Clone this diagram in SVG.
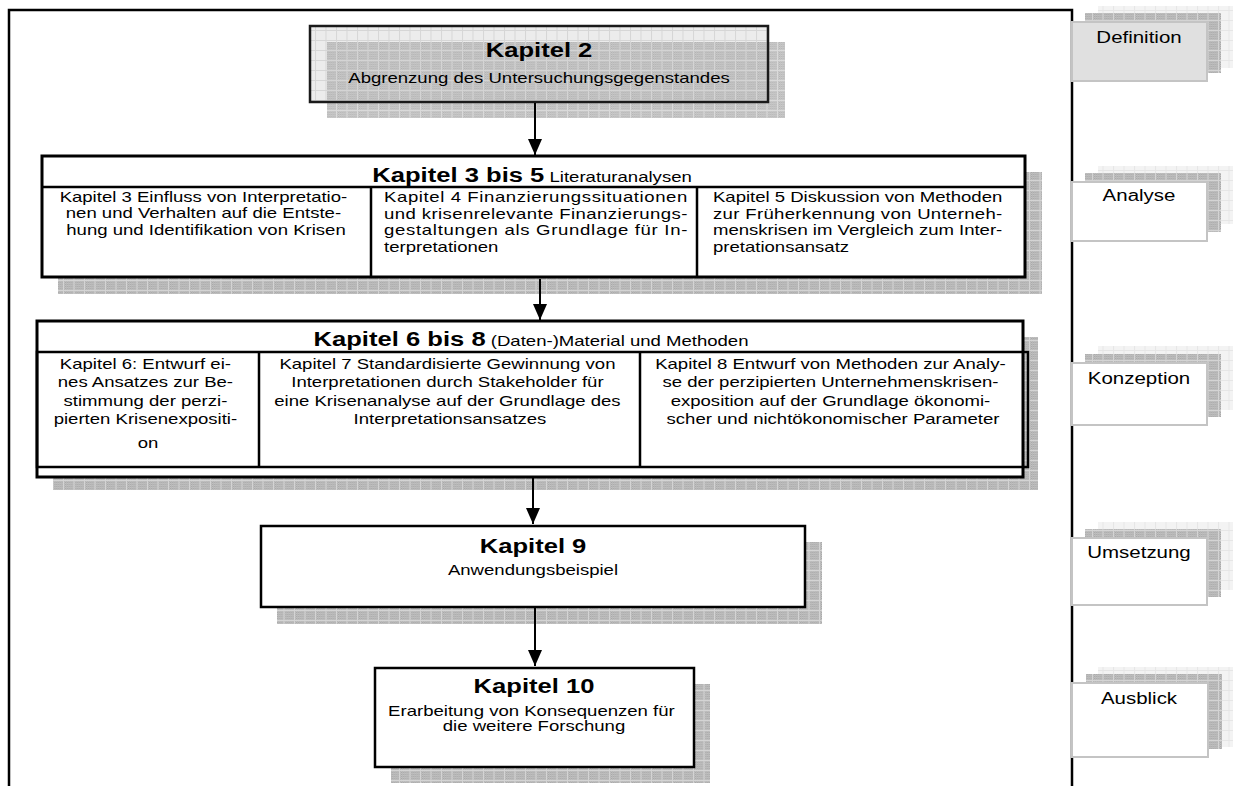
<svg xmlns="http://www.w3.org/2000/svg" width="1233" height="786" viewBox="0 0 1233 786">
  <defs>
    <!-- fine dither used under the grid textures -->
    <pattern id="dither" width="2" height="2" patternUnits="userSpaceOnUse">
      <rect width="2" height="2" fill="#c4c4c4"/>
      <rect width="1" height="1" fill="#a6a6a6"/>
      <rect x="1" y="1" width="1" height="1" fill="#b2b2b2"/>
    </pattern>
    <!-- dark grid texture for drop shadows -->
    <pattern id="gridDark" width="10.5" height="10" patternUnits="userSpaceOnUse">
      <rect width="10.5" height="10" fill="url(#dither)"/>
      <path d="M0.5 0V10M0 0.5H10.5" stroke="#d4d4d4" stroke-width="1" fill="none"/>
    </pattern>
    <!-- light grid texture -->
    <pattern id="gridLight" width="10.5" height="10" patternUnits="userSpaceOnUse">
      <rect width="10.5" height="10" fill="#ececec"/>
      <path d="M0.5 0V10M0 0.5H10.5" stroke="#d6d6d6" stroke-width="1" fill="none"/>
    </pattern>
    <!-- very light grid texture for the back layers of the side labels -->
    <pattern id="gridPale" width="10.5" height="10" patternUnits="userSpaceOnUse">
      <rect width="10.5" height="10" fill="#f3f3f3"/>
      <path d="M0.5 0V10M0 0.5H10.5" stroke="#e6e6e6" stroke-width="1" fill="none"/>
    </pattern>
    <marker id="arrow" viewBox="0 0 16 14" refX="16" refY="7" markerWidth="16" markerHeight="14" markerUnits="userSpaceOnUse" orient="auto">
      <path d="M0 0L16 7L0 14Z" fill="#000"/>
    </marker>
    <style>
      text { font-family: "Liberation Sans", Arial, sans-serif; fill: #000; }
      .h { font-size: 20px; font-weight: bold; text-anchor: middle; }
      .s { font-size: 14.5px; }
      .c { text-anchor: middle; }
      .lab { font-size: 16px; text-anchor: middle; }
      .box { fill: #fff; stroke: #000; stroke-width: 2.5; }
      .frame { fill: #fff; stroke: #000; stroke-width: 3; }
      .rule { stroke: #000; stroke-width: 2.5; fill: none; }
      .shadow { fill: url(#gridDark); }
      .back { fill: url(#gridPale); }
      .mid { fill: url(#gridDark); }
      .card { fill: #fff; stroke: #c4c4c4; stroke-width: 2; }
      .conn { stroke: #000; stroke-width: 2; fill: none; marker-end: url(#arrow); }
    </style>
  </defs>

  <!-- page frame -->
  <path d="M9 786V10H1072V786" fill="none" stroke="#000" stroke-width="2.5"/>

  <!-- Kapitel 2 -->
  <g id="kapitel2">
    <rect x="310" y="26" width="458" height="76" fill="url(#gridLight)"/>
    <rect x="327" y="42" width="458" height="76" class="shadow" opacity="0.85"/>
    <rect x="310" y="26" width="458" height="76" fill="none" stroke="#1a1a1a" stroke-width="2.5"/>
    <text class="h" transform="translate(539,57) scale(1.28,1)">Kapitel 2</text>
    <text class="s c" transform="translate(539,83) scale(1.28,1)">Abgrenzung des Untersuchungsgegenstandes</text>
  </g>

  <!-- Kapitel 3 bis 5 -->
  <g id="kapitel3-5">
    <rect x="58" y="172" width="984" height="122" class="shadow"/>
    <rect x="42" y="156" width="983" height="121" class="frame"/>
    <path d="M42 187H1025M371 187V277M697 187V277" class="rule"/>
    <text class="c" transform="translate(532,182) scale(1.28,1)"><tspan class="h">Kapitel 3 bis 5</tspan><tspan class="s"> Literaturanalysen</tspan></text>
    <text class="s c" transform="translate(206,202) scale(1.28,1)">
      <tspan x="0">Kapitel 3 Einfluss von Interpretatio-</tspan>
      <tspan x="0" dy="16.5">nen und Verhalten auf die Entste-</tspan>
      <tspan x="0" dy="16.5">hung und Identifikation von Krisen</tspan>
    </text>
    <text class="s" transform="translate(384,202) scale(1.28,1)" textLength="237" lengthAdjust="spacing">Kapitel 4 Finanzierungssituationen</text>
    <text class="s" transform="translate(384,218.5) scale(1.28,1)" textLength="237" lengthAdjust="spacing">und krisenrelevante Finanzierungs-</text>
    <text class="s" transform="translate(384,235) scale(1.28,1)" textLength="237" lengthAdjust="spacing">gestaltungen als Grundlage für In-</text>
    <text class="s" transform="translate(384,251.5) scale(1.28,1)">terpretationen</text>
    <text class="s" transform="translate(713,202) scale(1.28,1)" textLength="226" lengthAdjust="spacing">Kapitel 5 Diskussion von Methoden</text>
    <text class="s" transform="translate(713,218.5) scale(1.28,1)" textLength="226" lengthAdjust="spacing">zur Früherkennung von Unterneh-</text>
    <text class="s" transform="translate(713,235) scale(1.28,1)" textLength="226" lengthAdjust="spacing">menskrisen im Vergleich zum Inter-</text>
    <text class="s" transform="translate(713,251.5) scale(1.28,1)">pretationsansatz</text>
  </g>

  <!-- Kapitel 6 bis 8 -->
  <g id="kapitel6-8">
    <rect x="53" y="337" width="985" height="153" class="shadow"/>
    <rect x="37" y="321" width="986" height="156" class="frame"/>
    <rect x="37" y="352" width="991" height="115" fill="none" class="rule"/>
    <path d="M259 352V467M640 352V467" class="rule"/>
    <text class="c" transform="translate(531,346) scale(1.28,1)"><tspan class="h">Kapitel 6 bis 8</tspan><tspan class="s"> (Daten-)Material und Methoden</tspan></text>
    <text class="s c" transform="translate(148,369) scale(1.28,1)">
      <tspan x="0">Kapitel 6: Entwurf ei-</tspan>
      <tspan x="0" dy="18.5">nes Ansatzes zur Be-</tspan>
      <tspan x="0" dy="18.5">stimmung der perzi-</tspan>
      <tspan x="0" dy="18.5">pierten Krisenexpositi-</tspan>
      <tspan x="0" dy="24">on</tspan>
    </text>
    <text class="s c" transform="translate(450,369) scale(1.28,1)">
      <tspan x="0">Kapitel 7 Standardisierte Gewinnung von</tspan>
      <tspan x="0" dy="18.5">Interpretationen durch Stakeholder für</tspan>
      <tspan x="0" dy="18.5">eine Krisenanalyse auf der Grundlage des</tspan>
      <tspan x="0" dy="18.5">Interpretationsansatzes</tspan>
    </text>
    <text class="s c" transform="translate(833,369) scale(1.28,1)">
      <tspan x="0">Kapitel 8 Entwurf von Methoden zur Analy-</tspan>
      <tspan x="0" dy="18.5">se der perzipierten Unternehmenskrisen-</tspan>
      <tspan x="0" dy="18.5">exposition auf der Grundlage ökonomi-</tspan>
      <tspan x="0" dy="18.5">scher und nichtökonomischer Parameter</tspan>
    </text>
  </g>

  <!-- Kapitel 9 -->
  <g id="kapitel9">
    <rect x="277" y="542" width="545" height="82" class="shadow"/>
    <rect x="261" y="526" width="544" height="81" class="box"/>
    <text class="h" transform="translate(533,553) scale(1.28,1)">Kapitel 9</text>
    <text class="s c" transform="translate(533,575) scale(1.28,1)">Anwendungsbeispiel</text>
  </g>

  <!-- Kapitel 10 -->
  <g id="kapitel10">
    <rect x="391" y="684" width="319" height="99" class="shadow"/>
    <rect x="375" y="668" width="319" height="99" class="box"/>
    <text class="h" transform="translate(534,693) scale(1.28,1)">Kapitel 10</text>
    <text class="s c" transform="translate(534,716) scale(1.28,1)">
      <tspan x="0">Erarbeitung von Konsequenzen für</tspan>
      <tspan x="0" dy="15">die weitere Forschung</tspan>
    </text>
  </g>

  <!-- phase labels on the right -->
  <g id="definition">
    <rect x="1098" y="6" width="137" height="62" class="back"/>
    <rect x="1085" y="13" width="136" height="60" class="mid"/>
    <rect x="1072" y="22" width="135" height="59" class="card" style="fill:#e0e0e0"/>
    <text class="lab" transform="translate(1139,43) scale(1.28,1)">Definition</text>
  </g>
  <g id="analyse">
    <rect x="1098" y="166" width="137" height="58" class="back"/>
    <rect x="1085" y="173" width="136" height="59" class="mid"/>
    <rect x="1072" y="182" width="135" height="59" class="card"/>
    <text class="lab" transform="translate(1139,201) scale(1.28,1)">Analyse</text>
  </g>
  <g id="konzeption">
    <rect x="1098" y="346" width="137" height="64" class="back"/>
    <rect x="1085" y="354" width="136" height="63" class="mid"/>
    <rect x="1072" y="363" width="135" height="62" class="card"/>
    <text class="lab" transform="translate(1139,384) scale(1.28,1)">Konzeption</text>
  </g>
  <g id="umsetzung">
    <rect x="1098" y="522" width="137" height="68" class="back"/>
    <rect x="1085" y="529" width="136" height="68" class="mid"/>
    <rect x="1072" y="538" width="135" height="67" class="card"/>
    <text class="lab" transform="translate(1139,558) scale(1.28,1)">Umsetzung</text>
  </g>
  <g id="ausblick">
    <rect x="1098" y="667" width="137" height="80" class="back"/>
    <rect x="1086" y="674" width="136" height="75" class="mid"/>
    <rect x="1072" y="683" width="136" height="74" class="card"/>
    <text class="lab" transform="translate(1139,704) scale(1.28,1)">Ausblick</text>
  </g>

  <!-- connectors -->
  <g id="connectors">
    <path d="M535 103V155" class="conn"/>
    <path d="M540 279V320" class="conn"/>
    <path d="M533 478V524" class="conn"/>
    <path d="M535 608V666" class="conn"/>
  </g>
</svg>
